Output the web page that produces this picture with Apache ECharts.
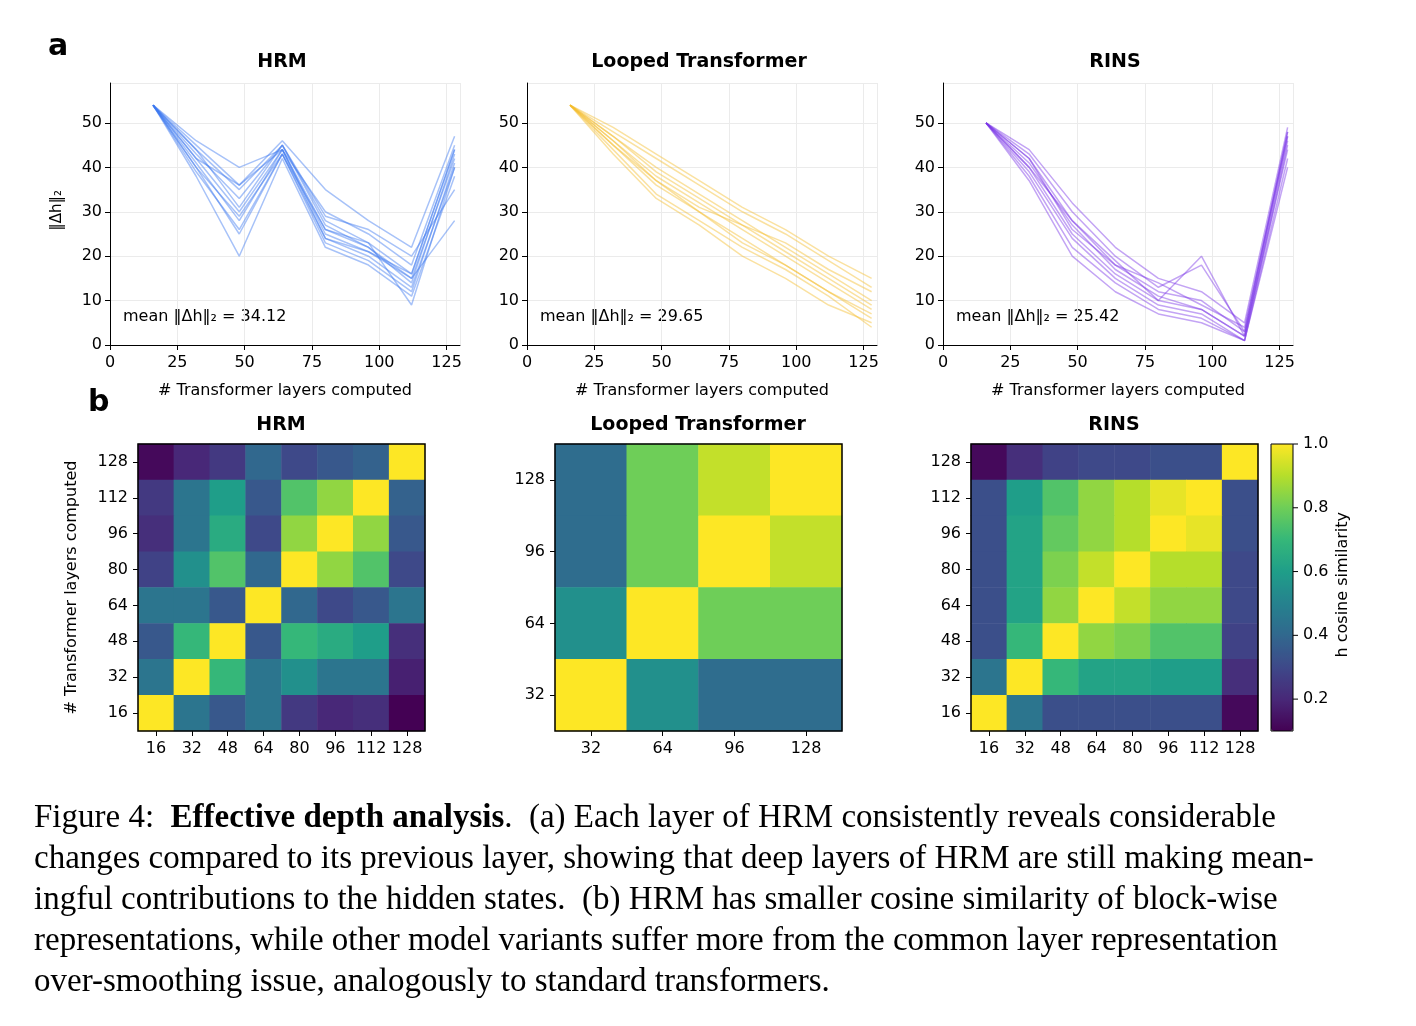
<!DOCTYPE html>
<html><head><meta charset="utf-8">
<script src="https://cdn.jsdelivr.net/npm/echarts@6/dist/echarts.min.js"></script>
<style>html,body{margin:0;background:#fff}#c{width:1416px;height:1026px}</style>
</head><body><div id="c"></div>
<script>
const xLayers = [16,32,48,64,80,96,112,128];
const hrmLines = [
[54,42,30,44,26,22,15,42],[54,44,35,45,28,23,16,44],[54,40,25,43,24,20,13,40],
[54,46,40,44,30,25,18,45],[54,38,20,42,22,18,11,38],[54,43,33,45,27,22,14,43],
[54,41,28,44,25,21,15,28],[54,45,36,46,35,28,22,47],[54,39,26,43,23,19,12,41],
[54,44,31,45,29,26,20,35],[54,42,36,44,24,21,16,44],[54,40,29,43,26,23,9,40]];
const loopLines = [
[54,46,38,32,26,20,14,8],[54,47,40,34,28,22,16,10],[54,45,36,30,24,18,12,6],
[54,48,42,36,30,25,19,13],[54,44,34,28,22,17,11,4],[54,46,37,31,27,21,15,9],
[54,47,39,33,27,23,17,12],[54,45,37,30,23,18,12,7],[54,49,43,37,31,26,20,15],
[54,43,33,27,20,15,9,5]];
const rinsLines = [
[50,42,28,18,12,10,3,48],[50,40,25,16,10,20,2,47],[50,38,22,14,8,6,1,45],
[50,44,32,22,15,12,5,49],[50,41,27,17,11,8,2,46],[50,39,24,15,9,7,1,40],
[50,43,30,20,13,18,3,48],[50,37,20,12,7,5,1,42],[50,42,26,18,14,9,4,47],
[50,40,28,19,10,8,2,44]];
const means = ['34.12','29.65','25.42'];
const titles = ['HRM','Looped Transformer','RINS'];
const cats8 = ['16','32','48','64','80','96','112','128'];
const cats4 = ['32','64','96','128'];
const cbarTicks = [0.2,0.4,0.6,0.8,1.0];
const hrmSim = [
[0.12,0.2,0.25,0.4,0.3,0.35,0.38,1.0],
[0.25,0.45,0.6,0.35,0.75,0.85,1.0,0.38],
[0.22,0.45,0.65,0.3,0.85,1.0,0.85,0.35],
[0.28,0.55,0.75,0.4,1.0,0.85,0.75,0.3],
[0.45,0.45,0.35,1.0,0.4,0.3,0.35,0.45],
[0.35,0.7,1.0,0.35,0.7,0.65,0.6,0.22],
[0.45,1.0,0.7,0.45,0.55,0.45,0.45,0.18],
[1.0,0.45,0.35,0.45,0.25,0.2,0.22,0.1]];
const loopSim = [
[0.42,0.8,0.92,1.0],
[0.42,0.8,1.0,0.92],
[0.55,1.0,0.8,0.8],
[1.0,0.55,0.42,0.42]];
const rinsSim = [
[0.12,0.22,0.28,0.3,0.3,0.32,0.32,1.0],
[0.32,0.6,0.75,0.85,0.9,0.97,1.0,0.32],
[0.32,0.62,0.78,0.85,0.9,1.0,0.97,0.32],
[0.32,0.62,0.82,0.92,1.0,0.9,0.9,0.3],
[0.32,0.62,0.85,1.0,0.92,0.85,0.85,0.3],
[0.32,0.7,1.0,0.85,0.82,0.75,0.75,0.28],
[0.45,1.0,0.7,0.62,0.62,0.6,0.6,0.22],
[1.0,0.45,0.32,0.32,0.32,0.32,0.32,0.12]];

const F = 'DejaVu Sans';
const lineColors = ['#3b78f0','#f4bc2c','#7a35e6'];
const lineLefts = [110,527,943];
const hmLefts = [138,555,971];
const grids=[], xAxes=[], yAxes=[], series=[];
const allLines=[hrmLines,loopLines,rinsLines];
for(let p=0;p<3;p++){
  grids.push({left:lineLefts[p],top:83,width:350,height:262});
  xAxes.push({type:'value',gridIndex:p,min:0,max:130,interval:25,
    axisLabel:{showMaxLabel:false,color:'#000',fontFamily:F,fontSize:16,margin:10},
    axisLine:{lineStyle:{color:'#000'}},axisTick:{lineStyle:{color:'#000'},length:5},
    splitLine:{lineStyle:{color:'#ebebeb'}},
    name:'# Transformer layers computed',nameLocation:'middle',nameGap:38,
    nameTextStyle:{color:'#000',fontFamily:F,fontSize:16}});
  yAxes.push({type:'value',gridIndex:p,min:0,max:59,interval:10,
    axisLabel:{showMaxLabel:false,color:'#000',fontFamily:F,fontSize:16},
    axisLine:{show:true,lineStyle:{color:'#000'}},axisTick:{show:true,lineStyle:{color:'#000'},length:5},
    splitLine:{lineStyle:{color:'#ebebeb'}}});
  allLines[p].forEach(l=>series.push({type:'line',xAxisIndex:p,yAxisIndex:p,
    data:l.map((v,i)=>[xLayers[i],v]),symbol:'none',silent:true,
    lineStyle:{color:lineColors[p],width:1.5,opacity:0.45}}));
}
const sims=[hrmSim,loopSim,rinsSim];
for(let p=0;p<3;p++){
  const gi=3+p, m=sims[p], n=m.length, cats=n===8?cats8:cats4;
  grids.push({left:hmLefts[p],top:444,width:287,height:287,show:true,borderColor:'#000',borderWidth:1.5,z:5});
  const ax={type:'category',gridIndex:gi,data:cats,
    axisLabel:{color:'#000',fontFamily:F,fontSize:16,interval:0,margin:10},
    axisLine:{show:false},axisTick:{show:true,lineStyle:{color:'#000'},alignWithLabel:true,length:5},splitLine:{show:false}};
  xAxes.push(Object.assign({},ax));
  yAxes.push(Object.assign({},ax, p===0?{name:'# Transformer layers computed',nameLocation:'middle',nameGap:58,nameRotate:90,
    nameTextStyle:{color:'#000',fontFamily:F,fontSize:16}}:{}));
  const data=[];
  m.forEach((row,r)=>row.forEach((v,c)=>data.push([c,n-1-r,v])));
  series.push({type:'heatmap',xAxisIndex:gi,yAxisIndex:gi,data,silent:true});
}
const g=[
 {type:'text',left:48,top:32,style:{text:'a',font:'bold 30px '+F,fill:'#000'}},
 {type:'text',left:88,top:388,style:{text:'b',font:'bold 30px '+F,fill:'#000'}},
 {type:'text',left:50,top:190,rotation:Math.PI/2,style:{text:'‖Δh‖₂',font:'15px '+F,fill:'#000'}},
 {type:'text',left:1335,top:512,rotation:Math.PI/2,style:{text:'h cosine similarity',font:'16px '+F,fill:'#000'}},
 {type:'rect',shape:{x:1271,y:444,width:22,height:287},style:{fill:'none',stroke:'#000',lineWidth:1},z:10}
];
cbarTicks.forEach(v=>{
  const y=444+(1.0-v)/0.9*287;
  g.push({type:'line',shape:{x1:1293,y1:y,x2:1298,y2:y},style:{stroke:'#000',lineWidth:1}});
  g.push({type:'text',x:1303,y:y,style:{text:v.toFixed(1),font:'16px '+F,fill:'#000',verticalAlign:'middle'}});
});
for(let p=0;p<3;p++){
  g.push({type:'text',x:lineLefts[p]+172,y:53,style:{text:titles[p],font:'bold 19px '+F,fill:'#000',align:'center'}});
  g.push({type:'text',x:hmLefts[p]+143,y:416,style:{text:titles[p],font:'bold 19px '+F,fill:'#000',align:'center'}});
  g.push({type:'text',x:lineLefts[p]+13,y:309,style:{text:'mean ‖Δh‖₂ = '+means[p],font:'16px '+F,fill:'#000'}});
}
const S='"Liberation Serif","DejaVu Serif",serif';
const cap=[
 'Figure 4:  {b|Effective depth analysis}.  (a) Each layer of HRM consistently reveals considerable',
 'changes compared to its previous layer, showing that deep layers of HRM are still making mean-',
 'ingful contributions to the hidden states.  (b) HRM has smaller cosine similarity of block-wise',
 'representations, while other model variants suffer more from the common layer representation',
 'over-smoothing issue, analogously to standard transformers.'];
cap.forEach((c,i)=>g.push({type:'text',left:34,top:802+i*41,style:{text:c,font:'33px '+S,fill:'#000',
  rich:{b:{font:'bold 33px '+S}}}}));
const chart=echarts.init(document.getElementById('c'));
chart.setOption({animation:false,grid:grids,xAxis:xAxes,yAxis:yAxes,series,graphic:g,
 visualMap:{type:'continuous',min:0.1,max:1.0,seriesIndex:[series.length-3,series.length-2,series.length-1],
  left:1271,top:444,padding:0,itemWidth:22,itemHeight:287,calculable:false,text:['',''],showLabel:false,
  inRange:{color:['#440154','#482878','#3e4989','#31688e','#26828e','#1f9e89','#35b779','#6ece58','#b5de2b','#fde725']}},
});
</script>
</body></html>
